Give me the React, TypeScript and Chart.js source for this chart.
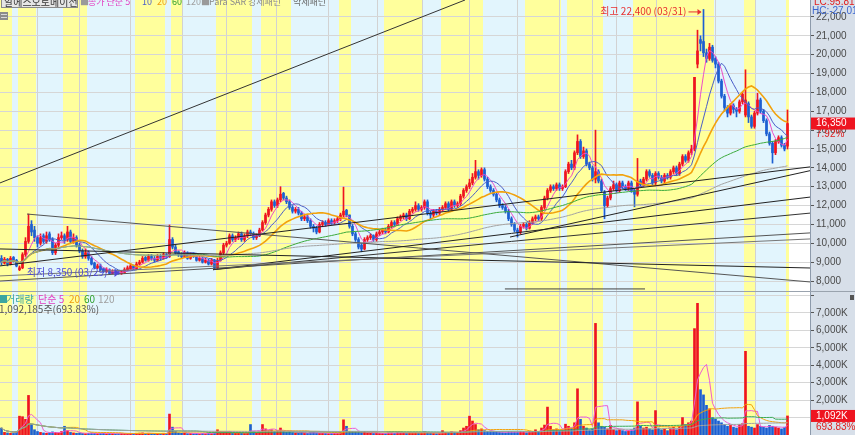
import React, { useEffect, useRef } from "react";
import { Chart, registerables } from "chart.js";
Chart.register(...registerables);

// ---------------- DATA (KRW, daily) ----------------
const opens = [
  9200, 8950, 9150, 8900, 9250, 9100, 8600, 8700, 9400, 10100,
  11000, 10700, 10300, 10000, 10400, 10100, 10500, 10200, 9500, 9900,
  10300, 10400, 10200, 10600, 10100, 10300, 9900, 9600, 9300, 9500,
  9200, 8950, 8700, 8800, 8650, 8500, 8600, 8400, 8500, 8500,
  8400, 8450, 8600, 8650, 8800, 8650, 8900, 9000, 9250, 9100,
  9300, 9200, 9100, 9300, 9200, 9400, 9300, 10200, 9800, 9550,
  9400, 9300, 9500, 9200, 9400, 9300, 9100, 9200, 9000, 9100,
  8900, 9100, 8700, 9100, 9500, 9900, 10000, 10400, 10200, 10300,
  10500, 10200, 10400, 10600, 10500, 10300, 10400, 10700, 11100, 11500,
  11800, 12200, 12000, 12300, 12650, 12400, 12200, 11900, 11700, 11800,
  11600, 11300, 11400, 11200, 10900, 10800, 10600, 11000, 11100, 11000,
  11200, 11100, 11200, 11300, 11500, 11750, 11500, 10900, 10500, 10200,
  9900, 9700, 10200, 10300, 10400, 10200, 10500, 10600, 10700, 10600,
  10900, 11100, 11000, 11300, 11400, 11500, 11300, 11700, 11800, 12000,
  11800, 11900, 12200, 11600, 11500, 11700, 11600, 11800, 11900, 12100,
  11800, 12200, 12000, 12100, 12500, 12800, 13000, 13200, 13500, 13800,
  13600, 13900, 13400, 13000, 12800, 12600, 12300, 12000, 11900, 11700,
  11300, 11000, 10700, 10600, 10900, 11000, 10800, 11100, 11300, 11400,
  11300, 11900, 12400, 12800, 13000, 12900, 13100, 12900, 13000, 13800,
  14200, 14000, 14800, 15400, 14600, 14900, 14200, 14000, 13400, 13800,
  13300, 12700, 12000, 12400, 12900, 13100, 12800, 13200, 13000, 12900,
  13200, 12800, 12600, 13300, 13100, 13400, 13800, 13600, 13200, 13700,
  13500, 13300, 13600, 13500, 13800, 14000, 13700, 14200, 14600, 14400,
  14800, 15000, 19500, 20800, 20700, 20100, 19800, 20400, 19800, 19500,
  18600, 17800, 17200, 16900, 17300, 17100, 17000, 17500, 16800, 17400,
  16700, 16200, 16900, 17600, 17000, 16500, 15800, 15300, 14800, 15400,
  15600, 15200, 15150,
];
const highs = [
  9350, 9250, 9200, 9300, 9300, 9150, 8800, 9500, 10300, 11550,
  11200, 10900, 10400, 10500, 10500, 10600, 10600, 10300, 10000, 10500,
  10600, 10500, 10900, 10700, 10500, 10400, 10000, 9700, 9700, 9600,
  9300, 9000, 8900, 8900, 8700, 8700, 8650, 8600, 8600, 8550,
  8550, 8700, 8800, 8900, 8850, 9000, 9100, 9300, 9300, 9400,
  9400, 9300, 9400, 9400, 9500, 9450, 10970, 10300, 9900, 9600,
  9500, 9600, 9550, 9500, 9500, 9350, 9300, 9250, 9200, 9150,
  9200, 9150, 9200, 9600, 10000, 10100, 10500, 10500, 10400, 10600,
  10600, 10500, 10700, 10700, 10600, 10500, 10800, 11200, 11600, 11900,
  12300, 12300, 12400, 13000, 12700, 12500, 12300, 12000, 11900, 11900,
  11700, 11500, 11500, 11300, 11000, 10900, 11100, 11200, 11200, 11300,
  11300, 11300, 11400, 11600, 12980, 11800, 11500, 11000, 10600, 10300,
  10000, 10300, 10400, 10500, 10450, 10600, 10700, 10800, 10800, 11000,
  11200, 11200, 11400, 11500, 11600, 11600, 11800, 11900, 12200, 12100,
  12000, 12300, 12300, 11700, 11800, 11800, 11900, 12000, 12200, 12200,
  12300, 12300, 12200, 12600, 12900, 13100, 13400, 13700, 14400, 13900,
  14000, 14000, 13500, 13100, 12900, 12700, 12400, 12100, 12000, 11800,
  11400, 11100, 10800, 11000, 11100, 11100, 11200, 11400, 11500, 11500,
  12000, 12500, 12900, 13100, 13100, 13200, 13200, 13100, 13900, 14300,
  14400, 14900, 15750, 15500, 15100, 15000, 14300, 14100, 16000, 13900,
  13400, 12800, 12500, 13000, 13300, 13200, 13300, 13300, 13100, 13300,
  13300, 12900, 14500, 13400, 13500, 13900, 13900, 13700, 13800, 13800,
  13600, 13700, 13700, 13900, 14100, 14100, 14300, 14700, 14700, 14900,
  15200, 18800, 21300, 21000, 22400, 20300, 20600, 20500, 19900, 19600,
  18700, 17900, 17300, 17400, 17400, 17200, 17600, 18000, 19200, 17500,
  16800, 17000, 17950, 17700, 17100, 16600, 15900, 15400, 15500, 15700,
  15700, 15300, 17070,
];
const lows = [
  8850, 8900, 8800, 8850, 9000, 8750, 8550, 8650, 9300, 10000,
  10400, 10100, 9800, 9900, 10000, 10000, 10100, 9400, 9400, 9800,
  10200, 10000, 10100, 10000, 10000, 9800, 9500, 9200, 9200, 9100,
  8850, 8650, 8650, 8550, 8450, 8450, 8380, 8380, 8400, 8360,
  8350, 8400, 8550, 8600, 8600, 8600, 8850, 8950, 9050, 9050,
  9100, 9000, 9050, 9100, 9150, 9200, 9250, 9700, 9400, 9300,
  9200, 9250, 9150, 9150, 9250, 9050, 9050, 8950, 8950, 8850,
  8850, 8600, 8650, 9050, 9400, 9800, 9950, 10100, 10100, 10200,
  10100, 10100, 10300, 10400, 10200, 10200, 10350, 10650, 11000, 11400,
  11700, 11900, 11900, 12200, 12300, 12100, 11800, 11600, 11600, 11500,
  11200, 11200, 11100, 10800, 10600, 10500, 10550, 10900, 10900, 10950,
  11000, 11000, 11100, 11200, 11400, 11400, 10800, 10400, 10100, 9700,
  9550, 9650, 10100, 10200, 10100, 10100, 10400, 10500, 10500, 10550,
  10800, 10900, 10950, 11200, 11300, 11200, 11250, 11600, 11700, 11700,
  11700, 11800, 11500, 11300, 11400, 11500, 11500, 11700, 11800, 11700,
  11700, 11900, 11900, 12000, 12400, 12700, 12900, 13100, 13400, 13400,
  13500, 13300, 12900, 12700, 12500, 12200, 11900, 11800, 11600, 11200,
  10900, 10600, 10330, 10500, 10800, 10700, 10750, 11000, 11200, 11200,
  11200, 11800, 12300, 12700, 12800, 12800, 12800, 12800, 12950, 13700,
  13900, 13900, 14700, 14500, 14500, 14100, 13900, 13300, 13200, 13200,
  12700, 11300, 11900, 12300, 12800, 12700, 12700, 12900, 12800, 12800,
  12700, 11930, 12500, 13000, 13000, 13300, 13500, 13100, 13100, 13400,
  13200, 13200, 13400, 13400, 13700, 13600, 13600, 14100, 14300, 14300,
  14700, 14900, 19300, 20200, 19900, 19600, 19700, 19600, 19300, 18500,
  17700, 17000, 16700, 16800, 16900, 16700, 16900, 17400, 16700, 16400,
  16100, 16100, 16800, 16900, 16400, 15700, 15200, 14250, 14700, 15300,
  15100, 14900, 15000,
];
const closes = [
  9000, 9150, 8900, 9200, 9100, 8800, 8700, 9400, 10100, 10900,
  10600, 10300, 10000, 10300, 10100, 10400, 10200, 9500, 9900, 10300,
  10400, 10200, 10600, 10100, 10300, 9900, 9600, 9300, 9500, 9200,
  8900, 8700, 8800, 8600, 8500, 8600, 8400, 8500, 8450, 8400,
  8500, 8600, 8700, 8800, 8650, 8900, 9000, 9200, 9100, 9300,
  9200, 9100, 9300, 9200, 9400, 9300, 10200, 9800, 9500, 9400,
  9300, 9500, 9200, 9400, 9300, 9100, 9200, 9000, 9100, 8900,
  9100, 8700, 9100, 9500, 9900, 10000, 10400, 10200, 10300, 10500,
  10200, 10400, 10600, 10500, 10300, 10400, 10700, 11100, 11500, 11800,
  12200, 12000, 12300, 12600, 12400, 12200, 11900, 11700, 11800, 11600,
  11300, 11400, 11200, 10900, 10800, 10600, 11000, 11100, 11000, 11200,
  11100, 11200, 11300, 11500, 11700, 11500, 10900, 10500, 10200, 9800,
  9700, 10200, 10300, 10400, 10200, 10500, 10600, 10700, 10600, 10900,
  11100, 11000, 11300, 11400, 11500, 11300, 11700, 11800, 12000, 11800,
  11900, 12200, 11600, 11500, 11700, 11600, 11800, 11900, 12100, 11800,
  12200, 12000, 12100, 12500, 12800, 13000, 13200, 13500, 13800, 13600,
  13900, 13400, 13000, 12800, 12600, 12300, 12000, 11900, 11700, 11300,
  11000, 10700, 10600, 10900, 11000, 10800, 11100, 11300, 11400, 11300,
  11900, 12400, 12800, 13000, 12900, 13100, 12900, 13000, 13800, 14200,
  14000, 14800, 15400, 14600, 14900, 14200, 14000, 13400, 13800, 13300,
  12800, 12000, 12400, 12900, 13100, 12800, 13200, 13000, 12900, 13200,
  12800, 12600, 13300, 13100, 13400, 13800, 13600, 13200, 13700, 13500,
  13300, 13600, 13500, 13800, 14000, 13700, 14200, 14600, 14400, 14800,
  15000, 18800, 20200, 20600, 20100, 19800, 20400, 19700, 19500, 18600,
  17800, 17200, 16900, 17300, 17100, 17000, 17500, 17900, 17600, 16700,
  16200, 16900, 17600, 17000, 16500, 15800, 15300, 14800, 15400, 15600,
  15200, 15000, 16350,
];
// volume, thousands of shares
const volumes = [
  400, 150, 120, 100, 90, 200, 1080, 1050, 900, 2270,
  600, 300, 200, 150, 120, 100, 130, 180, 150, 120,
  200, 500, 250, 150, 120, 100, 110, 90, 80, 100,
  120, 100, 80, 90, 110, 70, 90, 80, 60, 70,
  90, 80, 70, 90, 60, 100, 110, 120, 80, 100,
  80, 70, 90, 60, 100, 80, 1200, 450, 200, 120,
  100, 120, 80, 90, 70, 80, 60, 90, 70, 100,
  80, 150, 300, 200, 180, 150, 200, 140, 120, 150,
  120, 110, 150, 600, 200, 130, 180, 600, 350, 250,
  300, 200, 250, 400, 200, 150, 180, 140, 120, 110,
  150, 120, 100, 130, 140, 120, 110, 100, 90, 80,
  90, 100, 110, 150, 870, 500, 200, 180, 160, 150,
  140, 200, 120, 100, 90, 110, 100, 90, 80, 120,
  130, 100, 150, 120, 140, 100, 160, 130, 150, 110,
  120, 180, 150, 100, 90, 80, 100, 250, 150, 120,
  180, 130, 120, 250, 400, 500, 1080, 800, 600, 300,
  350, 250, 200, 180, 160, 170, 150, 140, 130, 200,
  180, 160, 150, 200, 180, 130, 220, 200, 300, 180,
  400, 570, 1600, 500, 300, 350, 250, 300, 620, 500,
  400, 700, 2650, 900, 500, 400, 300, 350, 6400, 700,
  500, 450, 350, 550, 300, 250, 300, 250, 200, 250,
  300, 400, 1900, 500, 400, 450, 350, 300, 1400, 400,
  300, 350, 250, 400, 450, 300, 500, 1000, 600, 700,
  800, 6100, 7550, 2600, 2300, 1700, 1500, 1000, 900, 800,
  700, 600, 500, 550, 450, 400, 600, 650, 4800, 500,
  450, 400, 600, 500, 450, 400, 550, 500, 450, 400,
  350, 450, 1092,
];
const priceTicks = [8000, 9000, 10000, 11000, 12000, 13000, 14000, 15000, 16000, 17000, 18000, 19000, 20000, 21000, 22000];
const volumeTicks = [1000, 2000, 3000, 4000, 5000, 6000, 7000, 8000];
const volumeLabelled = [2000, 3000, 4000, 5000, 6000, 7000];
// highlighted (yellow) period ranges, as candle-boundary indices [from, to)
const yellowRanges = [
  [0, 4], [6, 12], [21, 29], [45, 55], [57, 61], [72, 84], [87, 97],
  [113, 117], [128, 141], [147, 161], [175, 187], [189, 201], [211, 238],
  [248, 252], [262, 263],
];
// vertical grid line positions (candle index units)
const gridIdx = [11.8, 25.8, 42.7, 60, 74.7, 91.6, 108.9, 125.2, 140.2, 155.8, 171.8, 185.7, 196.7, 204.7, 218.3, 237.9, 251.2];
// trend lines: [index1, price1, index2, price2]
const trendLines = [
  [-0.5, 13200, 154.5, 22900],
  [8.5, 11550, 269.5, 7950],
  [-0.5, 8800, 269.5, 14050],
  [169.5, 10330, 269.5, 13850],
  [70.5, 8600, 269.5, 12450],
  [70.5, 8600, 269.5, 11600],
  [-0.5, 8000, 269.5, 10550],
  [-0.5, 8270, 269.5, 10230],
  [-0.5, 9700, 269.5, 8690],
  [167.8, 7580, 214.5, 7580],
];
const trendColors = ["#333", "#555", "#222", "#222", "#222", "#333", "#555", "#777", "#222", "#444"];
const highIdx = 234;
const highPrice = 22400;
const lowIdx = 40;
const lowPrice = 8350;
const lastPrice = 16350;
const lastChange = "7.92%";
const lastVolume = 1092; // K
const lastVolumeText = "1,092,185주(693.83%)";
const volRatio = "693.83%";

// ---------------- STYLE ----------------
const SLOTS = 270;
const AXIS_W = 45;
const RED = "#ee1420";
const BLUE = "#1c5fd2";
const YELLOW = "#ffff9c";
const SKY = "#e2f5fd";
const AXIS_BG = "#d7dfe9";
const FONT = '"Liberation Sans", "Noto Sans CJK KR", sans-serif';
const KFONT = '"Noto Sans CJK KR", "Liberation Sans", sans-serif';

function sma(values: number[], n: number) {
  return values.map((_, i) => {
    const s = Math.max(0, i - n + 1);
    let sum = 0;
    for (let k = s; k <= i; k++) sum += values[k];
    return sum / (i - s + 1);
  });
}

const labels = closes.map((_, i) => String(i));
while (labels.length < SLOTS) labels.push("");
const colors = closes.map((c, i) => (c >= opens[i] ? RED : BLUE));

function drawBackground(chart: any) {
  const { ctx, chartArea: a, scales } = chart;
  const x = scales.x;
  ctx.save();
  ctx.fillStyle = AXIS_BG;
  ctx.fillRect(0, 0, chart.width, chart.height);
  ctx.fillStyle = "#ffffff";
  ctx.fillRect(a.left, a.top, a.right - a.left, a.bottom - a.top);
  const px = (k: number) => x.getPixelForValue(k - 0.5);
  const h = a.bottom - a.top;
  ctx.fillStyle = SKY;
  ctx.fillRect(px(0), a.top, px(closes.length) - px(0), h);
  ctx.fillStyle = YELLOW;
  yellowRanges.forEach(([s, e]) => ctx.fillRect(px(s), a.top, px(e) - px(s), h));
  ctx.strokeStyle = "#d2d2d2";
  ctx.lineWidth = 1;
  gridIdx.forEach((g) => {
    const gx = Math.round(x.getPixelForValue(g)) + 0.5;
    ctx.beginPath();
    ctx.moveTo(gx, a.top);
    ctx.lineTo(gx, a.bottom);
    ctx.stroke();
  });
  ctx.restore();
}

function yAxis(min: number, max: number, ticks: number[], fmt: (v: number) => string) {
  return {
    position: "right",
    min,
    max,
    afterBuildTicks(scale: any) {
      scale.ticks = ticks.map((v) => ({ value: v }));
    },
    afterFit(scale: any) {
      scale.width = AXIS_W;
      scale.paddingTop = 0;
      scale.paddingBottom = 0;
    },
    ticks: {
      autoSkip: false,
      padding: 2,
      color: "#4a4a4a",
      font: { size: 10, family: FONT },
      callback: (v: any) => fmt(Number(v)),
    },
    grid: { color: "#d6d6d6", tickColor: "#555", tickLength: 4 },
    border: { color: "#8d9aab" },
  };
}

const xAxis = { display: false, offset: true, grid: { display: false } };

function priceConfig(): any {
  const ma = (n: number, color: string, w: number) => ({
    type: "line",
    data: sma(closes, n),
    borderColor: color,
    borderWidth: w,
    pointRadius: 0,
    tension: 0,
    order: 0,
  });
  const plugin = {
    id: "priceDecor",
    beforeDraw: drawBackground,
    afterDatasetsDraw(chart: any) {
      const { ctx, chartArea: a, scales } = chart;
      const { x, y } = scales;
      ctx.save();
      ctx.beginPath();
      ctx.rect(a.left, a.top, a.right - a.left, a.bottom - a.top);
      ctx.clip();
      trendLines.forEach(([i1, p1, i2, p2], k) => {
        ctx.strokeStyle = trendColors[k];
        ctx.lineWidth = 1;
        ctx.beginPath();
        ctx.moveTo(x.getPixelForValue(i1), y.getPixelForValue(p1));
        ctx.lineTo(x.getPixelForValue(i2), y.getPixelForValue(p2));
        ctx.stroke();
      });
      ctx.restore();
    },
    afterDraw(chart: any) {
      const { ctx, chartArea: a, scales } = chart;
      const { x, y } = scales;
      ctx.save();
      ctx.textBaseline = "middle";
      // top legend
      ctx.fillStyle = "#e6e6e6";
      ctx.fillRect(1, -4, 77, 12);
      ctx.strokeStyle = "#8a8a8a";
      ctx.strokeRect(1.5, -3.5, 76, 11);
      ctx.font = `10px ${KFONT}`;
      ctx.fillStyle = "#333";
      ctx.fillText("알에스오토메이션", 4, 2);
      const legend: [string, string, number][] = [
        ["■", "#9a9a9a", 80],
        ["종가 단순 5", "#e23cc0", 88],
        ["10", "#4b5fc8", 142],
        ["20", "#f0a010", 157],
        ["60", "#2ea02e", 172],
        ["120", "#a0a0a0", 186],
        ["■", "#9a9a9a", 201],
        ["Para SAR", "#8a8a8a", 209],
        ["강세패턴", "#8a8a8a", 248],
        ["약세패턴", "#6a6a6a", 293],
      ];
      ctx.font = `9px ${KFONT}`;
      legend.forEach(([t, c, lx]) => {
        ctx.fillStyle = c;
        ctx.fillText(t, lx, 2);
      });
      // small icon
      ctx.fillStyle = "#8c8c8c";
      ctx.fillRect(0, 12, 8, 8);
      ctx.fillStyle = "#d8d8d8";
      ctx.fillRect(1, 14, 6, 1);
      ctx.fillRect(1, 17, 6, 1);
      // right axis labels
      ctx.font = `10px ${FONT}`;
      ctx.fillStyle = "#e02020";
      ctx.fillText("LC:95.81", a.right + 4, 2);
      ctx.fillStyle = "#3a66d0";
      ctx.fillText("HC:-27.01", a.right + 2, 11);
      const ly = y.getPixelForValue(lastPrice);
      ctx.fillStyle = RED;
      ctx.fillRect(a.right + 1, ly - 6, AXIS_W, 12);
      ctx.fillStyle = "#fff";
      ctx.fillText(lastPrice.toLocaleString("en-US"), a.right + 6, ly);
      ctx.fillStyle = "#e02020";
      ctx.fillText(lastChange, a.right + 6, ly + 11);
      // high annotation
      const hx = x.getPixelForValue(highIdx);
      const hy = y.getPixelForValue(highPrice) + 2;
      ctx.strokeStyle = "#e83030";
      ctx.fillStyle = "#e83030";
      ctx.lineWidth = 1;
      ctx.beginPath();
      ctx.moveTo(hx - 15, hy + 0.5);
      ctx.lineTo(hx - 3, hy + 0.5);
      ctx.stroke();
      ctx.beginPath();
      ctx.moveTo(hx - 2, hy + 0.5);
      ctx.lineTo(hx - 6, hy - 2.5);
      ctx.lineTo(hx - 6, hy + 3.5);
      ctx.closePath();
      ctx.fill();
      ctx.textAlign = "right";
      ctx.font = `10px ${KFONT}`;
      ctx.fillText(`최고 ${highPrice.toLocaleString("en-US")} (03/31)`, hx - 17, hy);
      // low annotation
      const lx = x.getPixelForValue(lowIdx) - 1;
      const lyy = y.getPixelForValue(lowPrice) - 2;
      ctx.strokeStyle = "#4b48d6";
      ctx.fillStyle = "#4b48d6";
      ctx.beginPath();
      ctx.moveTo(lx - 12, lyy + 0.5);
      ctx.lineTo(lx - 3, lyy + 0.5);
      ctx.stroke();
      ctx.beginPath();
      ctx.moveTo(lx - 1, lyy + 0.5);
      ctx.lineTo(lx - 6, lyy - 3.5);
      ctx.lineTo(lx - 6, lyy + 4.5);
      ctx.closePath();
      ctx.fill();
      ctx.fillText(`최저 ${lowPrice.toLocaleString("en-US")} (03/29)`, lx - 13, lyy);
      ctx.restore();
    },
  };
  return {
    type: "bar",
    data: {
      labels,
      datasets: [
        {
          data: closes.map((_, i) => [lows[i], highs[i]]),
          backgroundColor: colors,
          barThickness: 1,
          grouped: false,
          order: 2,
        },
        {
          data: closes.map((c, i) => [opens[i], c]),
          backgroundColor: colors,
          barThickness: 2,
          minBarLength: 1,
          grouped: false,
          order: 1,
        },
        ma(120, "#a3a3a3", 1),
        ma(60, "#3cab3c", 1),
        ma(20, "#f2a20c", 1.6),
        ma(10, "#4a5ec8", 1),
        ma(5, "#ee4cc8", 1),
      ],
    },
    options: {
      animation: false,
      responsive: false,
      devicePixelRatio: 1,
      events: [],
      layout: { padding: 0 },
      plugins: { legend: { display: false }, tooltip: { enabled: false } },
      scales: {
        x: xAxis,
        y: yAxis(7470, 22900, priceTicks, (v) => v.toLocaleString("en-US")),
      },
    },
    plugins: [plugin],
  };
}

function volumeConfig(): any {
  const ma = (n: number, color: string) => ({
    type: "line",
    data: sma(volumes, n),
    borderColor: color,
    borderWidth: 1,
    pointRadius: 0,
    tension: 0,
    order: 0,
  });
  const plugin = {
    id: "volDecor",
    beforeDraw: drawBackground,
    afterDraw(chart: any) {
      const { ctx, chartArea: a, scales } = chart;
      const { y } = scales;
      ctx.save();
      ctx.textBaseline = "middle";
      ctx.font = `10px ${KFONT}`;
      const legend: [string, string, number][] = [
        ["■", "#3aa6a0", -2],
        ["거래량", "#3aa6a0", 6],
        ["단순 5", "#e23cc0", 38],
        ["20", "#f0a010", 69],
        ["60", "#2ea02e", 84],
        ["120", "#a0a0a0", 98],
      ];
      legend.forEach(([t, c, lx]) => {
        ctx.fillStyle = c;
        ctx.fillText(t, lx, 7);
      });
      ctx.fillStyle = "#555";
      ctx.fillText(lastVolumeText, -1, 17);
      // axis decorations
      ctx.fillStyle = "#555";
      ctx.fillRect(chart.width - 5, 3, 4, 5);
      const vy = y.getPixelForValue(lastVolume);
      ctx.fillStyle = RED;
      ctx.fillRect(a.right + 1, vy - 6, AXIS_W, 12);
      ctx.font = `10px ${FONT}`;
      ctx.fillStyle = "#fff";
      ctx.fillText(`${lastVolume.toLocaleString("en-US")}K`, a.right + 6, vy);
      ctx.fillStyle = "#e02020";
      ctx.fillText(volRatio, a.right + 6, vy + 11);
      ctx.restore();
    },
  };
  return {
    type: "bar",
    data: {
      labels,
      datasets: [
        {
          data: volumes,
          backgroundColor: colors,
          barThickness: 2,
          grouped: false,
          order: 1,
        },
        ma(120, "#a3a3a3"),
        ma(60, "#3cab5a"),
        ma(20, "#f2a20c"),
        ma(5, "#ee5cd0"),
      ],
    },
    options: {
      animation: false,
      responsive: false,
      devicePixelRatio: 1,
      events: [],
      layout: { padding: 0 },
      plugins: { legend: { display: false }, tooltip: { enabled: false } },
      scales: {
        x: xAxis,
        y: yAxis(0, 8200, volumeTicks, (v) => (volumeLabelled.includes(v) ? `${v.toLocaleString("en-US")}K` : "")),
      },
    },
    plugins: [plugin],
  };
}

export default function App() {
  const priceRef = useRef<HTMLCanvasElement>(null);
  const volRef = useRef<HTMLCanvasElement>(null);
  useEffect(() => {
    const pc = new Chart(priceRef.current as HTMLCanvasElement, priceConfig());
    const vc = new Chart(volRef.current as HTMLCanvasElement, volumeConfig());
    return () => {
      pc.destroy();
      vc.destroy();
    };
  }, []);
  return (
    <div style={{ position: "fixed", left: 0, top: 0, width: 855, height: 435, background: AXIS_BG, overflow: "hidden" }}>
      <canvas ref={priceRef} width={855} height={291} style={{ position: "absolute", left: 0, top: 0, display: "block" }} />
      <div style={{ position: "absolute", left: 0, top: 291, width: 855, height: 1, background: "#9aa3ae" }} />
      <canvas ref={volRef} width={855} height={143} style={{ position: "absolute", left: 0, top: 292, display: "block" }} />
    </div>
  );
}
